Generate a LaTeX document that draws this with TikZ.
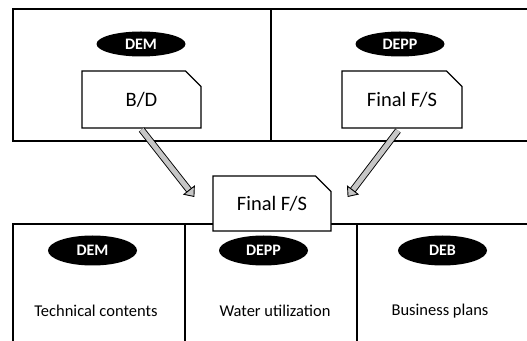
\documentclass[tikz,border=0pt]{standalone}
\usepackage{fontspec}
\setmainfont{Carlito}
\usetikzlibrary{shapes.geometric,shapes.misc,arrows.meta}

\begin{document}
\begin{tikzpicture}[x=1pt, y=1pt, line width=1.1pt,
  dept/.style={ellipse, fill=black, text=white, inner sep=0pt,
    font=\bfseries\fontsize{16}{19}\selectfont,
    minimum width=89pt, minimum height=25pt},
  docbox/.style={chamfered rectangle, chamfered rectangle corners=north east,
    chamfered rectangle xsep=8pt, chamfered rectangle ysep=8pt,
    draw, fill=white, inner sep=0pt, line width=1.2pt,
    minimum width=119pt, minimum height=57pt,
    font=\fontsize{20.5}{24}\selectfont},
  task/.style={font=\fontsize{16.5}{20}\selectfont},
  flow/.style={double=gray!45, double distance=5pt, line width=0.9pt,
    -{Triangle[length=9pt, width=15pt, fill=gray!45]}}]
  \useasboundingbox (0,0) rectangle (527,340);
  \clip (0,0) rectangle (527,340);

  % upper row: drafts of each department
  \draw (13,331) rectangle (545,199);
  \draw (271,331) -- (271,199);
  \node[dept] (demup) at (141,296) {DEM};
  \node[dept] (deppup) at (400,296) {DEPP};
  \node[docbox] (bd) at (141.5,240.5) {B/D};
  \node[docbox, minimum width=120pt] (fsup) at (402,240.5) {Final F/S};

  % lower row: contents of the final F/S
  \draw (13,-20) rectangle (545,116);
  \draw (185,116) -- (185,-20);
  \draw (357,116) -- (357,-20);
  \node[docbox, minimum width=118pt, minimum height=55pt] (fs) at (272,136.5) {Final F/S};
  \node[dept, minimum height=30pt] (demlow) at (92.5,89.5) {DEM};
  \node[dept, minimum height=30pt] (epplow) at (263.5,89.5) {DEPP};
  \node[dept, minimum height=30pt] (deblow) at (442.5,89.5) {DEB};
  \node[task] (tech) at (96,29) {Technical contents};
  \node[task] (water) at (275,29) {Water utilization};
  \node[task] (biz) at (440,29) {Business plans};

  % merging arrows
  \coordinate (inl) at ([xshift=-18pt, yshift=6.5pt]fs.west);
  \coordinate (inr) at ([xshift=16pt, yshift=6.5pt]fs.east);
  \draw[flow] ([yshift=-1pt]bd.south) -- (inl);
  \draw[flow] ([xshift=-4pt, yshift=-2pt]fsup.south) -- (inr);
\end{tikzpicture}
\end{document}
